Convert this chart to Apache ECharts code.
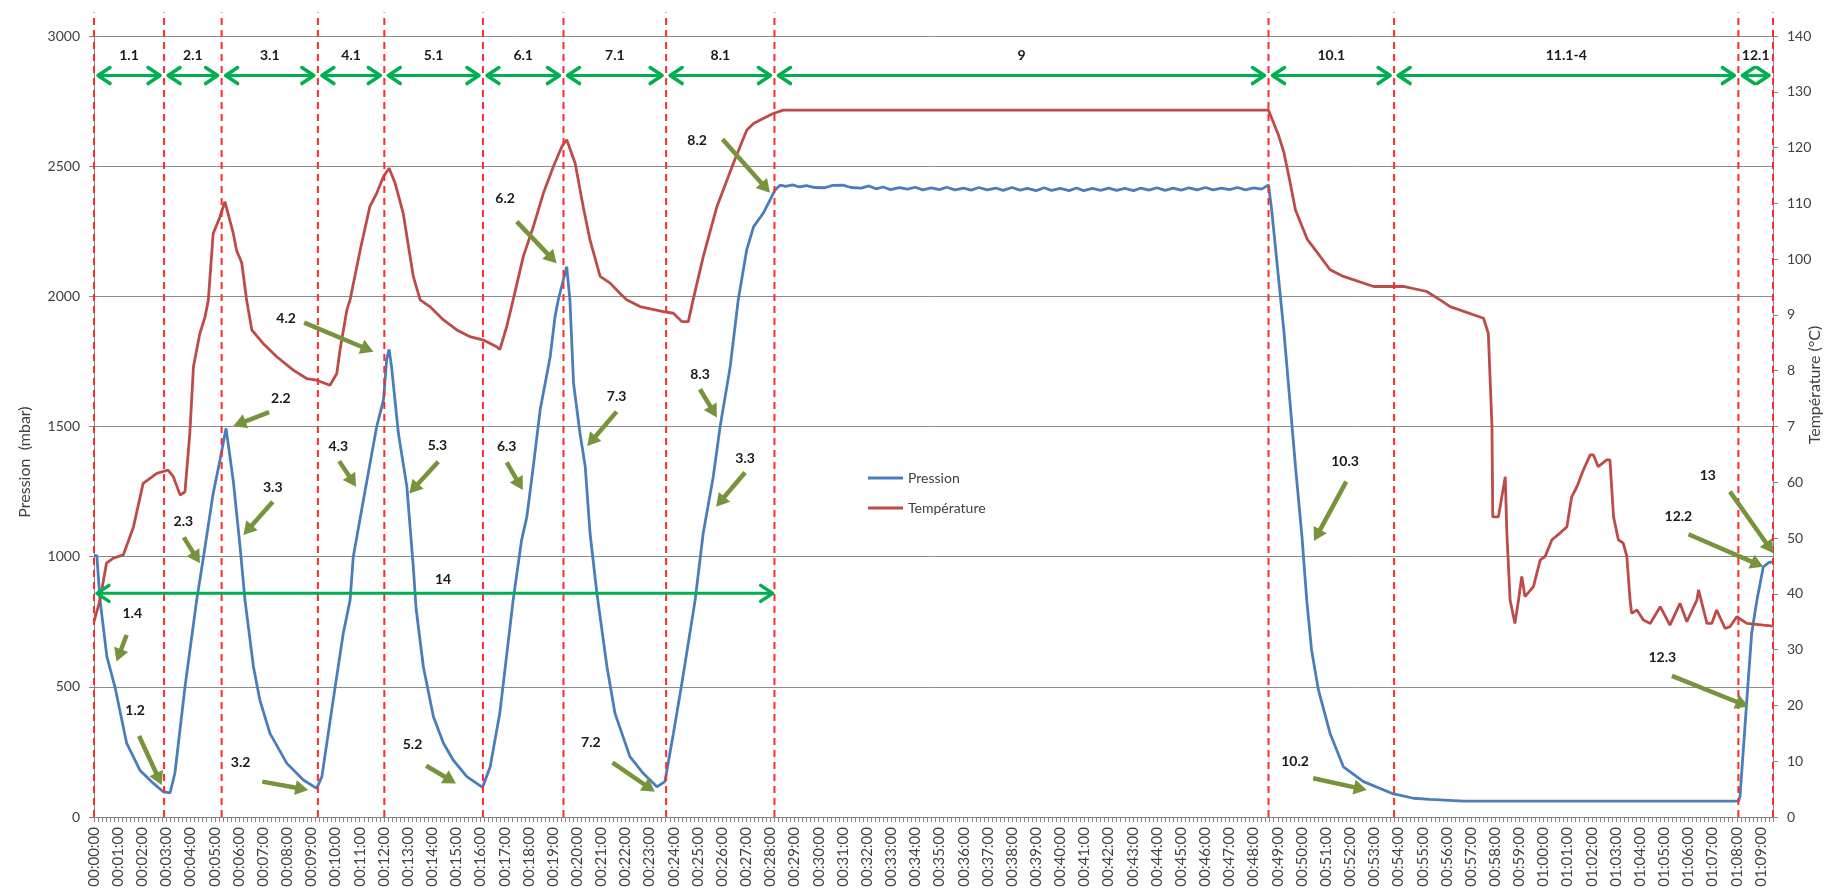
<!DOCTYPE html>
<html><head><meta charset="utf-8">
<script src="https://cdn.jsdelivr.net/npm/echarts@6/dist/echarts.min.js"></script>
<style>html,body{margin:0;padding:0;background:#fff}#c{width:1830px;height:891px}</style>
</head><body><div id="c"></div>
<script>
// time in seconds, pressure in mbar
const pressionData = [
[0,1005],[7,1004],[15,833],[32,616],[52,500],[81,284],[114,180],[147,130],[172,97],[189,93],[201,169],[226,500],[255,833],[272,1000],[296,1243],[313,1371],[328,1493],[346,1290],[362,1050],[375,833],
[396,577],[412,449],[437,321],[479,206],[520,142],[553,110],[566,155],[594,449],[619,705],[636,833],[644,1000],[669,1217],[702,1499],[719,1602],[727,1760],[733,1796],[739,1729],[756,1474],[777,1269],[793,961],[800,800],[818,577],
[843,385],[868,283],[892,219],[926,155],[965,114],[984,193],[1008,400],[1041,833],[1062,1064],[1075,1153],[1091,1346],[1108,1563],[1133,1768],[1145,1922],[1153,1986],[1174,2114],[1182,1986],[1191,1666],[1207,1474],[1220,1346],[1232,1090],[1249,859],
[1274,577],[1294,398],[1331,232],[1364,168],[1398,116],[1418,136],[1439,321],[1460,513],[1493,833],[1513,1090],[1538,1307],[1555,1499],[1580,1729],[1600,1986],[1621,2178],[1638,2267],[1662,2319],[1679,2370],[1691,2408],[1704,2427],
[1718,2422],[1735,2428],[1752,2420],[1770,2425],[1790,2418],[1815,2417],[1835,2426],[1860,2427],[1880,2418],[1905,2416],[1925,2424],[1942,2413],[1960,2420],[1978,2410],[2000,2418],[2020,2412],[2040,2419],[2058,2409],[2080,2417],[2100,2410],
[2118,2419],[2138,2409],[2160,2416],[2178,2408],[2198,2418],[2218,2409],[2240,2416],[2258,2407],[2280,2418],[2300,2408],[2318,2415],[2340,2406],[2360,2417],[2378,2407],[2400,2415],[2422,2406],[2440,2416],[2458,2406],[2480,2415],[2500,2407],
[2520,2416],[2540,2407],[2560,2415],[2582,2406],[2600,2416],[2620,2408],[2640,2417],[2660,2407],[2680,2416],[2700,2408],[2720,2417],[2740,2409],[2760,2418],[2780,2409],[2800,2416],[2820,2410],[2840,2418],[2860,2409],[2880,2417],[2900,2412],[2917,2428],
[2925,2330],[2940,2100],[2955,1870],[2970,1600],[2985,1330],[3000,1080],[3012,833],[3024,641],[3041,488],[3070,321],[3103,193],[3153,136],[3223,91],[3277,72],[3318,68],[3401,61],[4084,61],[4088,78],[4105,449],[4117,705],[4130,833],[4146,961],[4160,978],[4170,980]
];
// time in seconds, temperature in °C
const temperatureData = [
[0,35],[15,38.9],[31,45.5],[48,46.4],[73,47],[98,52],[122,59.8],[156,61.6],[184,62.2],[197,61],[214,57.7],[226,58.3],[238,68.8],[247,80.7],[263,86.7],[276,89.7],[284,92.7],[296,104.6],[313,107.6],[325,110.3],[346,104.6],[354,101.6],[367,99.3],[379,92.7],
[392,87.3],[420,84.9],[454,82.5],[495,80.1],[528,78.6],[553,78.3],[586,77.4],[603,79.5],[611,83.7],[628,90.9],[636,92.7],[661,101.6],[685,109.4],[702,111.8],[719,114.8],[733,116.3],[748,113.6],[768,108.2],[793,96.9],[810,92.7],[834,91.5],[868,89.1],
[901,87.3],[934,86.1],[967,85.5],[1000,84.3],[1008,83.8],[1025,87.9],[1041,92.7],[1066,100.4],[1091,105.8],[1116,111.8],[1141,116.6],[1162,120.2],[1174,121.4],[1195,117.2],[1215,109.4],[1232,103.4],[1257,96.9],[1282,95.7],[1306,93.9],[1323,92.7],
[1356,91.5],[1414,90.6],[1439,90.3],[1460,88.8],[1476,88.8],[1488,92.7],[1513,100.4],[1547,109.4],[1588,117.2],[1621,123.1],[1638,124.3],[1662,125.2],[1687,126.1],[1712,126.7],[2917,126.7],
[2941,122.4],[2955,119.2],[2970,114],[2984,108.8],[3013,103.6],[3042,100.8],[3070,98.1],[3103,96.9],[3178,95.1],[3252,95.1],[3310,94.2],[3343,92.7],[3368,91.5],[3451,89.4],[3463,86.7],[3472,70],[3474,53.8],[3488,53.8],[3505,61],[3509,50.9],
[3517,38.9],[3529,34.7],[3538,38.9],[3546,43.1],[3554,39.5],[3575,41.3],[3592,46.1],[3604,46.7],[3621,49.7],[3641,50.9],[3658,52],[3670,57.4],[3683,59.2],[3699,62.2],[3716,64.9],[3724,64.9],[3736,62.8],[3757,64],[3765,64],[3774,53.8],
[3786,49.7],[3798,49.1],[3807,46.7],[3815,38.9],[3819,36.5],[3832,37.1],[3848,35.3],[3865,34.7],[3890,37.7],[3914,34.4],[3939,38.3],[3956,35],[3981,38.9],[3985,40.7],[4006,34.7],[4018,34.7],[4030,37.1],[4051,33.8],[4063,34.1],[4080,35.9],[4105,34.7],[4170,34.2]
];
// phase boundaries (s) and phase names
const phaseBounds = [0,174,317,556,721,966,1166,1421,1690,2917,3229,4084,4170];
const phaseLabels = ['1.1','2.1','3.1','4.1','5.1','6.1','7.1','8.1','9','10.1','11.1-4','12.1'];
// long span arrow: [label, start s, end s]
const spanArrow = ['14', 0, 1688];
// annotations: [label, labelT, labelP, tailT, tailP, headT, headP]  (s, mbar)
const notes = [
['1.4',95,780,81,699,56,597],
['1.2',102,411,112,311,168,123],
['2.3',222,1134,223,1074,263,975],
['2.2',464,1608,435,1555,346,1502],
['3.3',444,1265,444,1211,371,1083],
['4.2',477,1913,522,1899,694,1787],
['3.2',364,210,418,136,532,104],
['4.3',607,1425,609,1367,651,1269],
['5.3',853,1426,855,1365,783,1243],
['5.2',791,280,825,197,899,129],
['6.2',1021,2376,1050,2287,1149,2127],
['6.3',1025,1422,1025,1362,1065,1256],
['7.3',1298,1614,1298,1557,1225,1425],
['7.2',1234,285,1288,209,1393,97],
['8.2',1498,2600,1561,2603,1679,2398],
['8.3',1505,1698,1505,1643,1547,1535],
['3.3',1617,1378,1617,1323,1545,1192],
['10.3',3107,1365,3110,1288,3030,1060],
['10.2',2983,215,3028,149,3161,104],
['13',4008,1310,4063,1250,4171,1013],
['12.2',3935,1153,3960,1086,4146,961],
['12.3',3895,613,3919,542,4109,424]
];
const tempTickLabels = ['0','10','20','30','40','50','60','7','8','9','100','110','120','130','140'];

// layout / style constants
const FONT = 'Lato';
const GREEN = '#00B050', OLIVE = '#77933C', DASH = '#FF2A2A';
const phaseArrowLevel = 2848, phaseLabelLevel = 2927, dashTopLevel = 3090;
const spanArrowLevel = 859, spanLabelPos = [867, 913];

function fmtTime(v) {
  if (v % 60 !== 0) return '';
  const h = Math.floor(v / 3600), m = Math.floor((v % 3600) / 60), s = v % 60;
  const p = n => String(n).padStart(2, '0');
  return p(h) + ':' + p(m) + ':' + p(s);
}
function dblArrow(x0, x1, y) {
  const L = 13, W = 8;
  const st = {stroke: GREEN, lineWidth: 3.5, fill: 'none', lineCap: 'round', lineJoin: 'round'};
  return [
    {type: 'line', shape: {x1: x0 + 1, y1: y, x2: x1 - 1, y2: y}, style: {stroke: GREEN, lineWidth: 3, fill: 'none'}},
    {type: 'polyline', shape: {points: [[x0 + L, y - W], [x0 + 1, y], [x0 + L, y + W]]}, style: st},
    {type: 'polyline', shape: {points: [[x1 - L, y - W], [x1 - 1, y], [x1 - L, y + W]]}, style: st}
  ];
}
function noteArrow(t, h) {
  const dx = h[0] - t[0], dy = h[1] - t[1];
  const len = Math.hypot(dx, dy) || 1;
  const ux = dx / len, uy = dy / len, nx = -uy, ny = ux;
  const L = 13, W = 7.5;
  const bx = h[0] - ux * L, by = h[1] - uy * L;
  return [
    {type: 'line', shape: {x1: t[0], y1: t[1], x2: bx + ux * 2, y2: by + uy * 2}, style: {stroke: OLIVE, lineWidth: 4.5, fill: 'none'}},
    {type: 'polygon', shape: {points: [[h[0], h[1]], [bx + nx * W, by + ny * W], [bx - nx * W, by - ny * W]]}, style: {fill: OLIVE, stroke: 'none'}}
  ];
}
function label(text, x, y) {
  return {type: 'text', x: x, y: y, style: {text: text, fill: '#1a1a1a', font: 'bold 14px ' + FONT, align: 'center', verticalAlign: 'middle'}};
}

const chart = echarts.init(document.getElementById('c'));
const phaseSegs = phaseLabels.map((l, i) => [phaseBounds[i], phaseBounds[i + 1]]);

chart.setOption({
  animation: false,
  backgroundColor: '#fff',
  grid: {left: 94, right: 57, top: 36, bottom: 74, containLabel: false},
  legend: {
    orient: 'vertical', left: 863, top: 465, itemWidth: 35, itemHeight: 3, icon: 'rect', itemGap: 14,
    data: ['Pression', 'Température'],
    textStyle: {fontFamily: FONT, fontSize: 14, color: '#404040', lineHeight: 16}
  },
  xAxis: {
    type: 'value', min: 0, max: 4170, interval: 60,
    axisLine: {show: true, lineStyle: {color: '#868686', width: 1}},
    axisTick: {show: true, length: 5, lineStyle: {color: '#868686'}},
    minorTick: {show: true, splitNumber: 6, length: 5, lineStyle: {color: '#868686'}},
    splitLine: {show: false},
    axisLabel: {rotate: 90, margin: 10, formatter: fmtTime, fontFamily: FONT, fontSize: 15, color: '#404040'}
  },
  yAxis: [
    {
      type: 'value', min: 0, max: 3000, interval: 500, position: 'left',
      axisLine: {show: true, lineStyle: {color: '#868686'}},
      axisTick: {show: true, length: 5, lineStyle: {color: '#868686'}},
      splitLine: {show: true, lineStyle: {color: '#8a8a8a', width: 1}},
      axisLabel: {margin: 14, fontFamily: FONT, fontSize: 14, color: '#404040', formatter: v => String(v)}
    },
    {
      type: 'value', min: 0, max: 140, interval: 10, position: 'right',
      axisLine: {show: true, lineStyle: {color: '#868686'}},
      axisTick: {show: true, length: 5, lineStyle: {color: '#868686'}},
      splitLine: {show: false},
      axisLabel: {margin: 14, fontFamily: FONT, fontSize: 14, color: '#404040',
        formatter: v => tempTickLabels[Math.round(v / 10)]}
    }
  ],
  graphic: [
    {type: 'text', x: 25, y: 462, rotation: Math.PI / 2, style: {text: 'Pression  (mbar)', font: '16px ' + FONT, fill: '#404040', align: 'center', verticalAlign: 'middle'}},
    {type: 'text', x: 1815, y: 385, rotation: Math.PI / 2, style: {text: 'Température (°C)', font: '16px ' + FONT, fill: '#404040', align: 'center', verticalAlign: 'middle'}}
  ],
  series: [
    {name: 'Pression', type: 'line', yAxisIndex: 0, data: pressionData, symbol: 'none',
      lineStyle: {color: '#4A7EBB', width: 2.8}, itemStyle: {color: '#4A7EBB'}, z: 3},
    {name: 'Température', type: 'line', yAxisIndex: 1, data: temperatureData, symbol: 'none',
      lineStyle: {color: '#BE4B48', width: 2.8}, itemStyle: {color: '#BE4B48'}, z: 3},
    {name: 'phases', type: 'custom', yAxisIndex: 0, silent: true, clip: false, z: 4,
      data: phaseBounds.map(t => [t, 0]), encode: {x: 0, y: 1},
      renderItem: (params, api) => {
        const b = api.coord([api.value(0), 0]);
        const t = api.coord([api.value(0), dashTopLevel]);
        return {type: 'line', shape: {x1: b[0], y1: b[1], x2: b[0], y2: t[1]},
          style: {stroke: DASH, lineWidth: 2, lineDash: [7, 5], fill: 'none'}};
      }},
    {name: 'phaseArrows', type: 'custom', yAxisIndex: 0, silent: true, clip: false, z: 5,
      data: phaseSegs, encode: {x: 0, y: 1},
      renderItem: (params, api) => {
        const a = api.coord([api.value(0), phaseArrowLevel]);
        const b = api.coord([api.value(1), phaseArrowLevel]);
        const lp = api.coord([(api.value(0) + api.value(1)) / 2, phaseLabelLevel]);
        const ch = dblArrow(a[0] + 3, b[0] - 3, a[1]);
        ch.push(label(phaseLabels[params.dataIndex], lp[0], lp[1]));
        return {type: 'group', children: ch};
      }},
    {name: 'spanArrow', type: 'custom', yAxisIndex: 0, silent: true, clip: false, z: 5,
      data: [[spanArrow[1], spanArrow[2]]], encode: {x: 0, y: 1},
      renderItem: (params, api) => {
        const a = api.coord([api.value(0), spanArrowLevel]);
        const b = api.coord([api.value(1), spanArrowLevel]);
        const lp = api.coord(spanLabelPos);
        const ch = dblArrow(a[0] + 2, b[0], a[1]);
        ch.push(label(spanArrow[0], lp[0], lp[1]));
        return {type: 'group', children: ch};
      }},
    {name: 'notes', type: 'custom', yAxisIndex: 0, silent: true, clip: false, z: 6,
      data: notes.map(n => n.slice(1)), encode: {x: 0, y: 1},
      renderItem: (params, api) => {
        const lp = api.coord([api.value(0), api.value(1)]);
        const tp = api.coord([api.value(2), api.value(3)]);
        const hp = api.coord([api.value(4), api.value(5)]);
        const ch = noteArrow(tp, hp);
        ch.push(label(notes[params.dataIndex][0], lp[0], lp[1]));
        return {type: 'group', children: ch};
      }}
  ]
});
</script></body></html>
